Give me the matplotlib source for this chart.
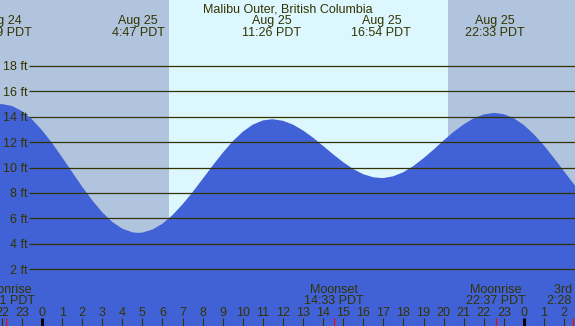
import matplotlib
matplotlib.use('Agg')
import matplotlib.pyplot as plt
import numpy as np

plt.rcParams['font.family'] = ['Liberation Sans', 'DejaVu Sans']

# ---------------- data ----------------
title = "Malibu Outer, British Columbia"

# tide heights (ft), hours relative to Aug 25 00:00
tide_hours = [-2.5, -2.0, -1.5, -1.0, -0.5, 0, 0.5, 1, 1.5, 2, 2.5, 3, 3.5, 4, 4.5,
              4.78, 5, 5.5, 6, 6.5, 7, 7.5, 8, 8.5, 9, 9.5, 10, 10.5, 11,
              11.43, 11.5, 12, 12.5, 13, 13.5, 14, 14.5, 15, 15.5, 16, 16.5,
              16.9, 17, 17.5, 18, 18.5, 19, 19.5, 20, 20.5, 21, 21.5, 22, 22.5,
              22.55, 23, 23.5, 24, 24.5, 25, 25.5, 26, 26.5, 27]
tide_ft = [14.88, 15.00, 14.85, 14.45, 13.80, 12.94, 11.93, 10.81, 9.64, 8.49, 7.42, 6.47, 5.71, 5.18, 4.89,
           4.85, 4.87, 5.11, 5.57, 6.25, 7.10, 8.06, 9.10, 10.15, 11.16, 12.07, 12.82, 13.38, 13.71,
           13.80, 13.80, 13.68, 13.38, 12.92, 12.35, 11.70, 11.04, 10.42, 9.88, 9.47, 9.23,
           9.17, 9.17, 9.31, 9.63, 10.12, 10.73, 11.41, 12.13, 12.81, 13.40, 13.88, 14.18, 14.30,
           14.30, 14.20, 13.88, 13.34, 12.61, 11.73, 10.74, 9.70, 8.66, 7.66]

extreme_dates = ["Aug 24", "Aug 25", "Aug 25", "Aug 25", "Aug 25"]
extreme_times = ["21:59", "4:47", "11:26", "16:54", "22:33"]
extreme_dayoff = [-1, 0, 0, 0, 0]

moon_names = ["Moonrise", "Moonset", "Moonrise", "3rd Qtr"]
moon_times = ["22:11", "14:33", "22:37", "2:28"]
moon_dayoff = [-1, 0, 0, 1]

sunrise = "6:19"
sunset = "20:13"

grid_levels = [2, 4, 6, 8, 10, 12, 14, 16, 18]
hour_ticks = list(range(-2, 27))

# ---------------- style ----------------
NIGHT = '#b0c4de'
DAY = '#ddf7ff'
WATER = '#4162d6'
INK = '#333300'
FS = 9

W, H = 575, 326
X0, PXH = 42.0, 20.08      # pixel of hour 0, pixels per hour
Y0, PXF = 294.4, 12.69     # pixel row of 0 ft, pixels per ft


def hrs(s, day=0):
    h, m = s.split(':')
    return int(h) + int(m) / 60 + 24 * day


def fx(px):
    return (px - X0) / PXH


def fy(py):
    return (Y0 - py) / PXF


fig = plt.figure(figsize=(W / 100, H / 100), dpi=100)
ax = fig.add_axes([0, 0, 1, 1])
xmin, xmax = fx(0), fx(W)
ymin, ymax = fy(H), fy(0)
ax.set_xlim(xmin, xmax)
ax.set_ylim(ymin, ymax)
ax.axis('off')

sr, ss = hrs(sunrise), hrs(sunset)
ax.axvspan(xmin, sr, color=NIGHT, lw=0, zorder=0)
ax.axvspan(sr, ss, color=DAY, lw=0, zorder=0)
ax.axvspan(ss, xmax, color=NIGHT, lw=0, zorder=0)

ax.fill_between(tide_hours, tide_ft, ymin, color=WATER, lw=0, zorder=1)

ax.hlines(grid_levels, fx(29), xmax, colors=INK, lw=0.9, zorder=2)
for lvl in grid_levels:
    ax.text(fx(27.5), lvl - 4.5 / PXF, f"{lvl} ft", ha='right', va='baseline',
            color=INK, fontsize=FS, zorder=3)

# title
ax.text(fx(287.5), fy(12), title, ha='center', va='baseline', color=INK, fontsize=FS, zorder=3)

# tide extremes labels
for d, t, off in zip(extreme_dates, extreme_times, extreme_dayoff):
    x = hrs(t, off)
    ax.text(x, fy(24), d, ha='center', va='baseline', color=INK, fontsize=FS, zorder=3)
    ax.text(x, fy(36.5), f"{t} PDT", ha='center', va='baseline', color=INK, fontsize=FS, zorder=3)

# hour ticks and labels
for hr in hour_ticks:
    if hr % 24 == 0:
        ax.vlines(hr, ymin, fy(318), colors='black', lw=2.2, zorder=3)
    else:
        ax.vlines(hr, ymin, fy(318), colors=INK, lw=0.8, zorder=3)
    ax.text(hr, fy(316), str(hr % 24), ha='center', va='baseline', color=INK, fontsize=FS, zorder=3)

# moon events
for n, t, off in zip(moon_names, moon_times, moon_dayoff):
    x = hrs(t, off)
    ax.vlines(x, ymin, fy(318), colors='red', lw=0.8, zorder=4)
    ax.text(x, fy(292.7), n, ha='center', va='baseline', color=INK, fontsize=FS, zorder=3)
    ax.text(x, fy(304), f"{t} PDT", ha='center', va='baseline', color=INK, fontsize=FS, zorder=3)

fig.savefig('out.png', dpi=100)
